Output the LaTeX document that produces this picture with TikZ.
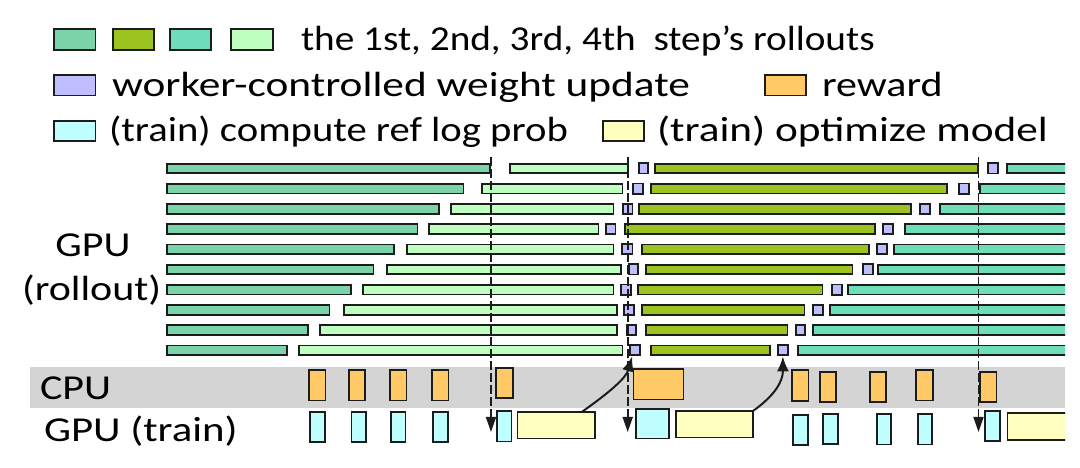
\documentclass[tikz,border=0pt]{standalone}
\usepackage{fontspec}
\setmainfont{Carlito}[FakeStretch=1.2]
\usetikzlibrary{arrows.meta}
\definecolor{cA}{HTML}{7BD3A9}
\definecolor{cB}{HTML}{9CC31F}
\definecolor{cC}{HTML}{6EDDB9}
\definecolor{cD}{HTML}{BFFFBF}
\definecolor{cU}{HTML}{BFBFFF}
\definecolor{cR}{HTML}{FFC966}
\definecolor{cT}{HTML}{BFFFFF}
\definecolor{cO}{HTML}{FFFFBF}
\definecolor{band}{HTML}{D4D4D4}
\definecolor{ink}{HTML}{1C1C1C}
% box by outer extents: name, colour, x1, x2, y1, y2
\newcommand\bx[6]{\node[box,fill=#2,minimum width={((#4)-(#3)-1.8)*1bp},minimum height={((#6)-(#5)-1.8)*1bp}] (#1) at ({((#3)+(#4))/2},{((#5)+(#6))/2}) {};}
% rollout bar: name, colour, x1, x2, ycentre
\newcommand\sg[5]{\bx{#1}{#2}{#3}{#4}{#5-5.7}{#5+5.7}}
% update square: name, x1, x2, ycentre
\newcommand\sq[4]{\bx{#1}{cU}{#2}{#3}{#4-6}{#4+6}}
\begin{document}
\begin{tikzpicture}[x=1bp,y=-1bp,
  box/.style={draw=ink,line width=1.8bp,inner sep=0pt,outer sep=0pt},
  lbl/.style={inner sep=0pt,outer sep=0pt,font=\fontsize{35bp}{40bp}\selectfont,text=black},
  dline/.style={draw=ink,line width=1.6bp,dash pattern=on 9bp off 3bp,-{Triangle[length=15bp,width=10bp]}},
  carrow/.style={draw=ink,line width=2bp,-{Latex[length=15bp,width=12bp]}}]
\useasboundingbox (0,0) rectangle (1080,468);
\fill[band] (30,366.7) rectangle (1065,408.5);
% legend
\bx{k1}{cA}{53.4}{96.4}{28.2}{50.6}
\bx{k2}{cB}{111.9}{155}{28.2}{50.6}
\bx{k3}{cC}{168.7}{211.8}{28.2}{50.6}
\bx{k4}{cD}{230}{273.8}{28.2}{50.6}
\node[lbl,anchor=base west] (t1) at (301,51) {\scalebox{0.935}[1]{the 1st, 2nd, 3rd, 4th\ \ step’s rollouts}};
\bx{k5}{cU}{53.4}{96.4}{74}{96.4}
\node[lbl,anchor=base west] (t2) at (112,97) {\scalebox{1.032}[1]{worker-controlled weight update}};
\bx{k6}{cR}{763.8}{806.9}{74}{96.4}
\node[lbl,anchor=base west] (t3) at (822,97) {reward};
\bx{k7}{cT}{53.4}{96.4}{119.8}{141.9}
\node[lbl,anchor=base west] (t4) at (109,142) {\scalebox{0.968}[1]{(train) compute ref log prob}};
\bx{k8}{cO}{602}{645}{119.8}{141.9}
\node[lbl,anchor=base west] (t5) at (657,142) {\scalebox{1.03}[1]{(train) optimize model}};
% row labels
\node[lbl,anchor=base] (gr1) at (93,256.5) {GPU};
\node[lbl,anchor=base] (gr2) at (91.7,300.5) {(rollout)};
\node[lbl,anchor=base west] (cpu) at (40,400) {CPU};
\node[lbl,anchor=base west] (gpt) at (44,441) {\scalebox{1.02}[1]{GPU (train)}};
\begin{scope}
\clip (0,0) rectangle (1065,468);
% rollout rows
\sg{a0}{cA}{166}{490.7}{168.5}\sg{b0}{cD}{509}{629}{168.5}\sq{p0}{637.7}{649}{168.5}\sg{c0}{cB}{654}{979}{168.5}\sq{q0}{987}{998.7}{168.5}\sg{d0}{cC}{1005.7}{1080}{168.5}
\sg{a1}{cA}{166}{464.3}{188.7}\sg{b1}{cD}{480.7}{623.3}{188.7}\sq{p1}{632.3}{643.7}{188.7}\sg{c1}{cB}{649.7}{947.7}{188.7}\sq{q1}{958.3}{970}{188.7}\sg{d1}{cC}{979.3}{1080}{188.7}
\sg{a2}{cA}{166}{440}{208.9}\sg{b2}{cD}{450}{614.3}{208.9}\sq{p2}{622.3}{633.3}{208.9}\sg{c2}{cB}{637.7}{911.7}{208.9}\sq{q2}{919.3}{930.7}{208.9}\sg{d2}{cC}{939}{1080}{208.9}
\sg{a3}{cA}{166}{418.3}{229.1}\sg{b3}{cD}{428.3}{599.3}{229.1}\sq{p3}{605}{616.3}{229.1}\sg{c3}{cB}{624}{875.7}{229.1}\sq{q3}{882}{893.7}{229.1}\sg{d3}{cC}{903.7}{1080}{229.1}
\sg{a4}{cA}{166}{395}{249.3}\sg{b4}{cD}{405.7}{614.3}{249.3}\sq{p4}{621}{633.3}{249.3}\sg{c4}{cB}{641.3}{870}{249.3}\sq{q4}{876}{887.7}{249.3}\sg{d4}{cC}{892.7}{1080}{249.3}
\sg{a5}{cA}{166}{374.3}{269.5}\sg{b5}{cD}{385.7}{622}{269.5}\sq{p5}{627.7}{639}{269.5}\sg{c5}{cB}{645}{853.3}{269.5}\sq{q5}{862.3}{874}{269.5}\sg{d5}{cC}{877}{1080}{269.5}
\sg{a6}{cA}{166}{351.7}{289.7}\sg{b6}{cD}{362.3}{614.3}{289.7}\sq{p6}{620.3}{632}{289.7}\sg{c6}{cB}{637}{823.3}{289.7}\sq{q6}{830.7}{842.7}{289.7}\sg{d6}{cC}{847}{1080}{289.7}
\sg{a7}{cA}{166}{330.3}{309.9}\sg{b7}{cD}{343.3}{617.7}{309.9}\sq{p7}{623.3}{635}{309.9}\sg{c7}{cB}{641}{805.3}{309.9}\sq{q7}{812.3}{823.7}{309.9}\sg{d7}{cC}{828.7}{1080}{309.9}
\sg{a8}{cA}{166}{309}{330.1}\sg{b8}{cD}{319.3}{617.7}{330.1}\sq{p8}{626}{636.7}{330.1}\sg{c8}{cB}{645}{788.3}{330.1}\sq{q8}{794.7}{806}{330.1}\sg{d8}{cC}{812.3}{1080}{330.1}
\sg{a9}{cA}{166}{287.7}{350.3}\sg{b9}{cD}{298}{623.3}{350.3}\sq{p9}{629.3}{641}{350.3}\sg{c9}{cB}{650}{771}{350.3}\sq{q9}{777}{788.7}{350.3}\sg{d9}{cC}{796.7}{1080}{350.3}
% CPU: reward
\bx{o1}{cR}{308.2}{326.4}{369.5}{401.5}
\bx{o2}{cR}{347.8}{366}{369.5}{401.5}
\bx{o3}{cR}{389.1}{407.4}{369.5}{401.5}
\bx{o4}{cR}{431.1}{449.4}{369.5}{401.5}
\bx{o5}{cR}{495.2}{513.8}{367}{399}
\bx{o6}{cR}{632.5}{684.3}{368.5}{400.5}
\bx{o7}{cR}{790.7}{809.3}{369.5}{402}
\bx{o8}{cR}{819}{837.2}{371}{403}
\bx{o9}{cR}{868.9}{887.1}{371}{403}
\bx{o10}{cR}{915.3}{933.6}{369.5}{401.5}
\bx{o11}{cR}{979}{997.3}{371}{403}
% GPU (train)
\bx{g1}{cT}{308.9}{325.8}{411}{443}
\bx{g2}{cT}{350.5}{367}{411}{443}
\bx{g3}{cT}{390.2}{406.3}{411}{443}
\bx{g4}{cT}{432.2}{448.7}{411}{443}
\bx{g5}{cT}{495.9}{512.4}{410.5}{442.5}
\bx{y1}{cO}{516.5}{595.8}{411}{439.5}
\bx{g6}{cT}{635}{670}{408.5}{439.5}
\bx{y2}{cO}{675}{754}{410}{438.5}
\bx{g7}{cT}{792}{808.5}{414}{446}
\bx{g8}{cT}{822.4}{838.6}{413}{445}
\bx{g9}{cT}{875.7}{891.9}{413.5}{445.5}
\bx{g10}{cT}{917}{932.6}{413.5}{445.5}
\bx{g11}{cT}{984.2}{1000.7}{410}{442}
\bx{y3}{cO}{1006.6}{1080}{412}{441}
% dashed sync lines
\coordinate (s1t) at (491,157); \coordinate (s1b) at (491,432);
\coordinate (s2t) at (627.7,157); \coordinate (s2b) at (627.7,432);
\coordinate (s3t) at (978.5,157); \coordinate (s3b) at (978.5,432);
\draw[dline] (s1t) -- (s1b);
\draw[dline] (s2t) -- (s2b);
\draw[dline] (s3t) -- (s3b);
% weight-update arrows
\draw[carrow] ([xshift=-13bp]y1.north east) .. controls (610,392) and (626,378) .. ([xshift=-3bp,yshift=-1bp]p9.south);
\draw[carrow] (y2.north east) .. controls (774,396) and (783,382) .. ([yshift=-1bp]q9.south);
\end{scope}
\end{tikzpicture}
\end{document}
